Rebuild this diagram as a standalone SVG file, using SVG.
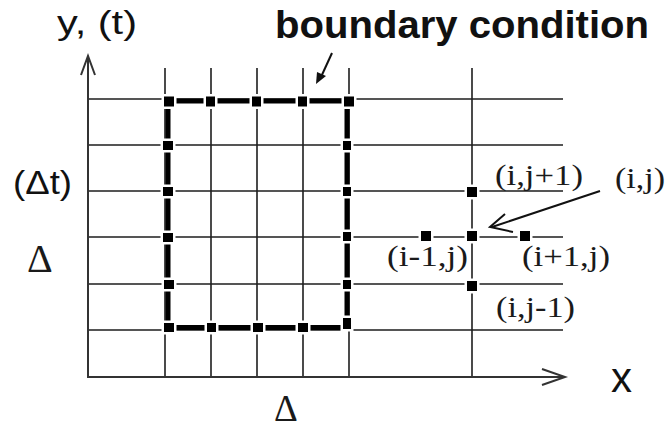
<svg xmlns="http://www.w3.org/2000/svg" width="667" height="429" viewBox="0 0 667 429">
<style>
.grid{stroke:#1e1e1e;stroke-width:1.6;fill:none}
.axis{stroke:#333;stroke-width:2;fill:none}
.bnd{stroke:#000;stroke-width:5;fill:none}
.node{fill:#000;stroke:#fff;stroke-width:5;paint-order:stroke}
.sans{font-family:"Liberation Sans",Arial,sans-serif;fill:#111}
.serif{font-family:"Liberation Serif","Times New Roman",serif;fill:#1a1a1a}
.lbl{font-size:30px}
.ptr{stroke:#111;stroke-width:2;fill:none}
</style>
<rect width="667" height="429" fill="#fff"/>
<g id="connectors">
  <g id="grid">
    <path class="grid" d="M88 99H563M88 145H563M88 191H563M88 237H563M88 284H563M88 330H563"/>
    <path class="grid" d="M165 68V377M211 68V377M257 68V377M303 68V377M349 68V377M472 68V377"/>
  </g>
  <g id="axes">
    <path class="axis" d="M88 57V377H564"/>
    <path class="axis" d="M81 75L88 56L95 75"/>
    <path class="axis" d="M542 369L565 377L542 385"/>
  </g>
  <g id="boundary">
    <path class="bnd" d="M168 101H349M347 101V325M168 101V328M168 327.5H347"/>
  </g>
  <g id="pointers">
    <path class="ptr" d="M332 53L321 77"/>
    <path d="M316 84L317 72L326 76Z" fill="#111"/>
    <path class="ptr" d="M600 191L492 227"/>
    <path class="ptr" d="M505 214L490 227L513 232"/>
  </g>
</g>
<g id="boundary-nodes">
  <rect class="node" x="164" y="96.5" width="10" height="10"/>
  <rect class="node" x="206" y="96.5" width="9" height="10"/>
  <rect class="node" x="252" y="96.5" width="9" height="10"/>
  <rect class="node" x="298" y="96.5" width="9" height="10"/>
  <rect class="node" x="344" y="96.5" width="10" height="10"/>
  <rect class="node" x="163" y="141" width="10" height="9"/>
  <rect class="node" x="163" y="187" width="10" height="9"/>
  <rect class="node" x="163" y="233" width="10" height="9"/>
  <rect class="node" x="164" y="280" width="10" height="9"/>
  <rect class="node" x="164" y="323" width="10" height="9"/>
  <rect class="node" x="207" y="323" width="9" height="9"/>
  <rect class="node" x="253" y="323" width="10" height="9"/>
  <rect class="node" x="298" y="323" width="10" height="9"/>
  <rect class="node" x="343" y="318" width="8" height="11"/>
  <rect class="node" x="343" y="141" width="8" height="9"/>
  <rect class="node" x="343" y="187" width="8" height="9"/>
  <rect class="node" x="343" y="232" width="8" height="9"/>
  <rect class="node" x="343" y="280" width="8" height="9"/>
</g>
<g id="node-ij1"><rect class="node" x="467" y="187" width="10" height="10"/><text class="serif lbl" x="495" y="185" textLength="88" lengthAdjust="spacingAndGlyphs">(i,j+1)</text></g>
<g id="node-ij"><rect class="node" x="467" y="231" width="10" height="10"/><text class="serif lbl" x="615" y="188" textLength="50" lengthAdjust="spacingAndGlyphs">(i,j)</text></g>
<g id="node-im1j"><rect class="node" x="421" y="231" width="10" height="10"/><text class="serif lbl" x="387" y="266" textLength="81" lengthAdjust="spacingAndGlyphs">(i-1,j)</text></g>
<g id="node-ip1j"><rect class="node" x="520" y="231" width="10" height="10"/><text class="serif lbl" x="522" y="266" textLength="88" lengthAdjust="spacingAndGlyphs">(i+1,j)</text></g>
<g id="node-ijm1"><rect class="node" x="467" y="281" width="10" height="10"/><text class="serif lbl" x="496" y="317" textLength="79" lengthAdjust="spacingAndGlyphs">(i,j-1)</text></g>
<g id="labels">
  <text class="sans" x="57" y="34" font-size="33" textLength="80" lengthAdjust="spacingAndGlyphs">y, (t)</text>
  <text class="sans" x="275" y="38" font-size="38" font-weight="bold" textLength="374" lengthAdjust="spacingAndGlyphs">boundary condition</text>
  <text class="sans" x="13" y="194" font-size="33" textLength="59" lengthAdjust="spacingAndGlyphs">(Δt)</text>
  <text class="serif" x="27" y="272" font-size="40">Δ</text>
  <text class="serif" x="274" y="421" font-size="37">Δ</text>
  <text class="sans" x="611" y="392" font-size="42">x</text>
</g>
</svg>
